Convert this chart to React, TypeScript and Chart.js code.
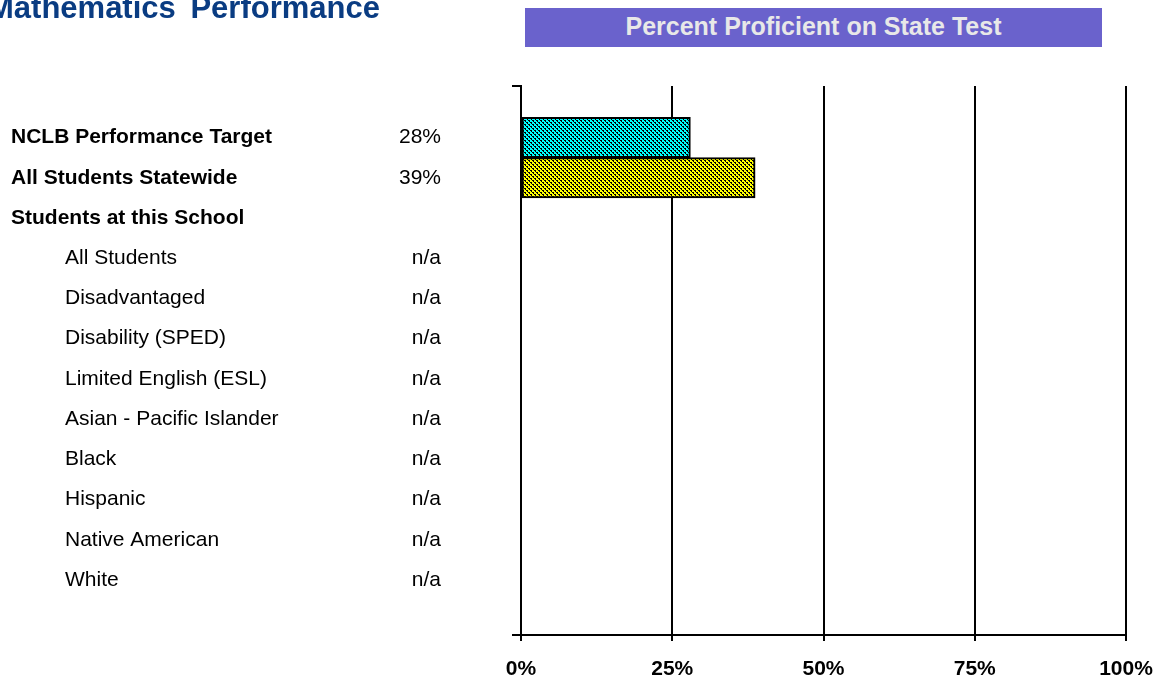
import React, { useEffect, useRef } from "react";
import { Chart, registerables } from "chart.js";

Chart.register(...registerables);

const TITLE = "Mathematics Performance";
const HEADER = "Percent Proficient on State Test";

const categories = [
  "NCLB Performance Target",
  "All Students Statewide",
  "Students at this School",
  "All Students",
  "Disadvantaged",
  "Disability (SPED)",
  "Limited English (ESL)",
  "Asian - Pacific Islander",
  "Black",
  "Hispanic",
  "Native American",
  "White",
];
const indentLevels = [0, 0, 0, 1, 1, 1, 1, 1, 1, 1, 1, 1];
const valueLabels = ["28%", "39%", "", "n/a", "n/a", "n/a", "n/a", "n/a", "n/a", "n/a", "n/a", "n/a"];
const proficiency: (number | null)[] = [28.0, 38.7, null, null, null, null, null, null, null, null, null, null];
const barColors = ["#00FFFF", "#FFFF00", "#FFFF00"];
const xTickValues = [0, 25, 50, 75, 100];

const FONT = "'Liberation Sans', Arial, Helvetica, sans-serif";

function makePattern(color: string): CanvasPattern | string {
  const c = document.createElement("canvas");
  c.width = 4;
  c.height = 4;
  const g = c.getContext("2d");
  if (!g) return color;
  g.fillStyle = color;
  g.fillRect(0, 0, 4, 4);
  g.fillStyle = "#000000";
  for (let y = 0; y < 4; y++) {
    g.fillRect(y % 4, y, 1, 1);
    if (y % 2 === 0) g.fillRect((y + 1) % 4, y, 1, 1);
  }
  return g.createPattern(c, "repeat") || color;
}

const rowLabelPlugin = {
  id: "rowLabels",
  afterDraw(chart: any) {
    const ctx = chart.ctx as CanvasRenderingContext2D;
    const yScale = chart.scales.y;
    ctx.save();
    ctx.fillStyle = "#000000";
    ctx.textBaseline = "middle";
    categories.forEach((label, i) => {
      const y = yScale.getPixelForValue(i);
      const bold = indentLevels[i] === 0;
      ctx.font = `${bold ? "bold " : ""}21px ${FONT}`;
      ctx.textAlign = "left";
      ctx.fillText(label, indentLevels[i] ? 65 : 11, y);
      if (valueLabels[i]) {
        ctx.font = `21px ${FONT}`;
        ctx.textAlign = "right";
        ctx.fillText(valueLabels[i], 441, y);
      }
    });
    ctx.restore();
  },
};

export default function App() {
  const canvasRef = useRef<HTMLCanvasElement | null>(null);

  useEffect(() => {
    const canvas = canvasRef.current;
    if (!canvas) return;
    const bars = proficiency
      .map((v, i) => ({ v, i }))
      .filter((b) => b.v !== null) as { v: number; i: number }[];
    const patterns = bars.map((b) => makePattern(barColors[b.i]));

    const chart = new Chart(canvas, {
      type: "bar",
      data: {
        datasets: [
          {
            data: bars.map((b) => ({ x: b.v, y: b.i })) as any,
            backgroundColor: patterns as any,
            borderColor: "#000000",
            borderWidth: 2,
            borderSkipped: false,
            barPercentage: 1,
            categoryPercentage: 1,
          },
        ],
      },
      options: {
        indexAxis: "y",
        responsive: false,
        animation: false,
        events: [],
        layout: { padding: { left: 511, top: 86, right: 33, bottom: 0 } },
        plugins: {
          legend: { display: false },
          tooltip: { enabled: false },
          title: { display: false },
        },
        scales: {
          y: {
            type: "linear",
            reverse: true,
            offset: false,
            min: -1.28,
            max: 12.367,
            afterBuildTicks: (s: any) => {
              s.ticks = [{ value: s.min }, { value: s.max }];
            },
            afterFit: (s: any) => {
              s.width = 10;
              s.paddingTop = 0;
              s.paddingBottom = 0;
            },
            ticks: { display: false },
            grid: { offset: false, drawOnChartArea: false, color: "#000000", lineWidth: 2, tickLength: 9 },
            border: { color: "#000000", width: 2 },
          },
          x: {
            type: "linear",
            min: 0,
            max: 100,
            offset: false,
            afterBuildTicks: (s: any) => {
              s.ticks = xTickValues.map((v) => ({ value: v }));
            },
            afterFit: (s: any) => {
              s.height = 42;
              s.paddingLeft = 0;
              s.paddingRight = 0;
            },
            ticks: {
              callback: (v: any) => `${v}%`,
              font: { size: 21, weight: "bold", family: FONT },
              color: "#000000",
              padding: 16,
              maxRotation: 0,
              autoSkip: false,
            },
            grid: { offset: false, color: "#000000", lineWidth: 2, tickLength: 6 },
            border: { color: "#000000", width: 2 },
          },
        },
      },
      plugins: [rowLabelPlugin],
    });
    return () => chart.destroy();
  }, []);

  return (
    <div
      style={{
        position: "fixed",
        left: 0,
        top: 0,
        width: 1159,
        height: 677,
        overflow: "hidden",
        background: "#ffffff",
        fontFamily: FONT,
      }}
    >
      <canvas ref={canvasRef} width={1159} height={677} style={{ position: "absolute", left: 0, top: 0 }} />
      <div
        style={{
          position: "absolute",
          left: -12,
          top: -8,
          fontSize: 31,
          lineHeight: "31px",
          fontWeight: "bold",
          color: "#0A3C82",
          whiteSpace: "nowrap",
          wordSpacing: 6,
        }}
      >
        {TITLE}
      </div>
      <div
        style={{
          position: "absolute",
          left: 525,
          top: 8,
          width: 577,
          height: 39,
          background: "#6A62CC",
          color: "#E8E8E8",
          fontSize: 25,
          lineHeight: "37px",
          fontWeight: "bold",
          textAlign: "center",
          whiteSpace: "nowrap",
        }}
      >
        {HEADER}
      </div>
    </div>
  );
}
